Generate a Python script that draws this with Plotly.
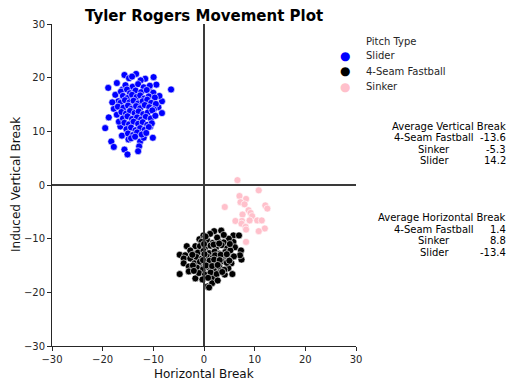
import plotly.graph_objects as go

# Slider (blue)
slider_x = [-18.9,-17.2,-15.7,-13.4,-16.1,-17.5,-16.9,-18.8,-11.6,-9.95,-9.4,-6.5,-8.3,-9.0,-8.3,-19.5,-18.3,-17.8,-15.7,-15.1,
            -16.5,-16.2,-14.9,-10.1,-12.6,-12.8,-13.0,-10.6,-11.9,-14.8,-12.5,-14.2,-10.8,-8.8,-17.8,-17.2,-16.8,-18.1,
            -15.5,-14.1,-13.0,-11.9,-10.7,
            -16.4,-15.2,-14.6,-13.5,-12.4,-11.3,-10.0,
            -16.0,-15.1,-14.2,-13.3,-12.6,-11.8,-10.9,-9.7,
            -16.5,-15.6,-14.7,-13.9,-13.0,-12.1,-11.2,-10.4,-9.5,
            -17.0,-15.9,-15.0,-14.3,-13.4,-12.6,-11.7,-10.8,-9.9,
            -16.3,-15.4,-14.6,-13.7,-12.9,-12.0,-11.1,-10.2,
            -16.0,-15.1,-14.2,-13.2,-12.4,-11.5,-10.5,-9.6,
            -15.7,-14.8,-13.9,-13.0,-12.1,-11.2,-10.3,
            -15.3,-14.4,-13.5,-12.6,-11.7,-10.9,
            -15.0,-14.0,-13.2,-12.3,-11.4,
            -14.4,-13.6]
slider_y = [18.1,19.0,20.5,20.7,17.8,16.8,15.6,12.6,19.8,20.1,18.7,17.8,15.6,14.5,13.4,10.6,8.1,7.1,6.6,5.7,
            10.9,9.2,8.5,8.8,8.1,7.2,6.3,10.9,8.8,19.9,19.5,20.2,17.6,16.6,14.2,13.1,11.8,15.4,
            18.6,18.3,18.8,18.2,18.5,
            17.4,17.8,17.1,17.6,17.3,17.7,17.2,
            16.6,16.2,16.8,16.4,16.7,16.1,16.5,16.3,
            15.3,15.8,15.4,15.7,15.2,15.6,15.9,15.3,15.1,
            14.6,14.4,14.8,14.2,14.7,14.3,14.9,14.5,14.1,
            13.6,13.3,13.8,13.4,13.7,13.2,13.5,13.9,
            12.4,12.8,12.3,12.6,12.2,12.7,12.4,12.9,
            11.6,11.3,11.8,11.4,11.7,11.2,11.5,
            10.4,10.7,10.2,10.6,10.3,10.8,
            9.6,9.3,9.8,9.4,9.7,
            8.7,9.0]

# 4-Seam Fastball (black)
fastball_x = [-0.9,-0.1,-1.7,-3.4,-2.7,-4.8,-3.7,-1.7,-4.0,-2.7,2.0,3.4,5.8,6.9,5.8,6.1,7.3,4.9,1.2,-4.0,-3.0,-4.8,-3.0,-1.7,
              0.7,-0.4,7.4,5.4,4.1,1.8,1.6,1.0,3.2,4.8,5.6,7.1,
              -0.5,0.6,1.7,2.8,3.9,
              -0.8,0.2,1.3,2.4,3.5,4.6,
              -1.2,-0.1,1.0,2.1,3.1,4.2,5.2,
              -1.5,-0.4,0.6,1.7,2.7,3.8,4.8,5.9,
              -1.9,-0.8,0.3,1.4,2.4,3.5,4.5,
              -1.4,-0.2,0.9,2.0,3.0,4.0,
              -1.0,0.2,1.3,2.5,
              -0.3,0.8,2.7,
              0.3,2.6,3.9,
              0.0,1.9,3.0,5.1,
              -2.3,0.1,2.2,3.3,4.5,
              -0.2,1.1,2.0,3.1,5.0,
              0.4,1.6,2.7,-2.2,
              -2.0,3.6]
fastball_y = [-10.1,-9.4,-11.4,-11.4,-12.2,-13.0,-13.1,-12.8,-13.7,-13.7,-8.6,-8.5,-9.4,-9.4,-10.6,-11.6,-12.2,-10.0,-9.1,-14.6,-15.2,-16.6,-16.1,-17.4,
              -18.9,-15.5,-13.9,-14.6,-16.7,-17.2,-18.3,-19.1,-16.1,-15.5,-16.6,-13.1,
              -10.6,-10.3,-10.8,-10.4,-10.7,
              -11.4,-11.7,-11.3,-11.6,-11.2,-11.8,
              -12.6,-12.3,-12.7,-12.4,-12.8,-12.5,-12.2,
              -13.4,-13.7,-13.3,-13.6,-13.2,-13.8,-13.5,-13.3,
              -14.6,-14.3,-14.7,-14.4,-14.8,-14.2,-14.5,
              -15.4,-15.7,-15.3,-15.6,-15.2,-15.8,
              -16.4,-16.7,-16.3,-16.6,
              -17.6,-17.3,-17.8,
              -9.6,-9.8,-9.3,
              -11.0,-11.1,-10.9,-11.0,
              -13.0,-12.9,-13.1,-13.0,-12.9,
              -14.0,-14.1,-13.9,-14.0,-14.1,
              -15.0,-15.1,-14.9,-15.0,
              -16.0,-16.2]

# Sinker (pink)
sinker_x = [6.6,10.8,7.0,8.3,7.2,8.0,4.1,12.1,12.5,8.8,9.2,7.6,9.5,6.2,7.5,9.0,10.5,11.4,7.4,8.2,8.3,12.0,10.8,8.3]
sinker_y = [0.9,-1.0,-2.05,-2.6,-3.2,-3.6,-4.1,-3.8,-4.4,-4.7,-5.2,-5.5,-5.8,-6.7,-6.7,-6.6,-6.6,-6.6,-7.2,-7.8,-8.3,-8.1,-8.6,-10.6]

pitch_types = ["Slider", "4-Seam Fastball", "Sinker"]
colors = ["#0000ff", "#000000", "#ffc0cb"]

avg_names = ["4-Seam Fastball", "Sinker", "Slider"]
avg_v_vals = ["-13.6", "-5.3", "14.2"]
avg_h_vals = ["1.4", "8.8", "-13.4"]

FONT = "DejaVu Sans"
OFF = 8  # page body margin
W, H = 515 - OFF, 387 - OFF
# plot area in window pixels
L, R, T, B = 52, 356, 24, 346
Lf, Rf, Tf, Bf = L - OFF, R - OFF, T - OFF, B - OFF

fig = go.Figure()
for name, xs, ys, c in zip(pitch_types, [slider_x, fastball_x, sinker_x], [slider_y, fastball_y, sinker_y], colors):
    fig.add_trace(go.Scatter(x=xs, y=ys, mode="markers", name=name, showlegend=False,
                             marker=dict(color=c, size=7, line=dict(color="white", width=0.6))))

fig.add_shape(type="line", x0=0, x1=0, y0=-30, y1=30, xref="x", yref="y",
              line=dict(color="#3a3a3a", width=2), layer="above")
fig.add_shape(type="line", x0=-30, x1=30, y0=0, y1=0, xref="x", yref="y",
              line=dict(color="#3a3a3a", width=2), layer="above")

annotations = []

def add_abs(text, x, y, anchor, color="black", size=10, angle=0):
    annotations.append(dict(text=text, x=(x - L) / (R - L), y=1 - (y - T) / (B - T), xref="paper", yref="paper",
                            xanchor=anchor, yanchor="middle", showarrow=False, textangle=angle,
                            font=dict(size=size, color=color)))

# title
add_abs("<b>Tyler Rogers Movement Plot</b>", 204, 16, "center", "black", 15)

# legend
add_abs("Pitch Type", 364, 41, "left", "#262626")
for i, (n, c) in enumerate(zip(pitch_types, colors)):
    add_abs("●", 345, 56.5 + 15 * i, "center", c, 12)
    add_abs(n, 364, 56 + 15 * i, "left", "#262626")

add_abs("Average Vertical Break", 508, 126, "right")
for i, (n, v) in enumerate(zip(avg_names, avg_v_vals)):
    add_abs(n, 434, 137.5 + 11.6 * i, "center")
    add_abs(v, 508, 137.5 + 11.6 * i, "right")
add_abs("Average Horizontal Break", 508, 217.5, "right")
for i, (n, v) in enumerate(zip(avg_names, avg_h_vals)):
    add_abs(n, 434, 229 + 11.6 * i, "center")
    add_abs(v, 508, 229 + 11.6 * i, "right")

# axis titles
add_abs("Horizontal Break", 204, 374, "center", "#111111", 12)
add_abs("Induced Vertical Break", 16, 185, "center", "#111111", 12, -90)

fig.update_layout(
    width=W, height=H,
    margin=dict(l=Lf, r=W - Rf, t=Tf, b=H - Bf, autoexpand=False),
    paper_bgcolor="white", plot_bgcolor="white",
    font=dict(family=FONT, size=10, color="#262626"),
    showlegend=False,
    annotations=annotations,
)

axis_common = dict(range=[-30, 30], tickvals=[-30, -20, -10, 0, 10, 20, 30], showgrid=False, zeroline=False,
                   showline=True, linecolor="#262626", linewidth=1, ticks="outside", ticklen=4,
                   tickcolor="#262626", automargin=False, tickfont=dict(size=10, color="#262626"))
fig.update_xaxes(**axis_common)
fig.update_yaxes(**axis_common)

fig.write_html("out.html")
